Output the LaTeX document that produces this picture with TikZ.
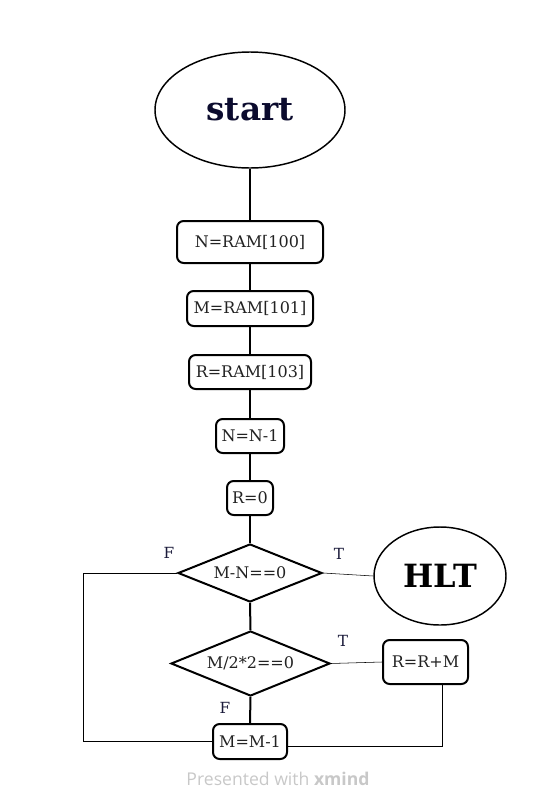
\documentclass[tikz,border=0pt]{standalone}
\usepackage{fontspec}
\setmainfont{DejaVu Serif}
\newfontfamily\xmfont{Open Sans}
\usetikzlibrary{shapes.geometric}
\definecolor{navy}{HTML}{0B0B2E}
\definecolor{labc}{HTML}{1A1A3A}
\definecolor{txt}{HTML}{222222}
\definecolor{thin}{HTML}{5A5A5A}
\definecolor{xm}{HTML}{C8C8C8}
\tikzset{
  box/.style={draw=black, line width=1.5pt, rounded corners=5pt, fill=white, inner sep=0pt, font=\fontsize{12}{14}\selectfont, text=txt},
  dia/.style={draw=black, line width=1.5pt, diamond, inner sep=0pt, fill=white, font=\fontsize{12}{14}\selectfont, text=txt},
  ell/.style={draw=black, line width=1.1pt, ellipse, inner sep=0pt, fill=white},
  main/.style={line width=1.5pt, black},
  loop/.style={line width=0.8pt, thin},
  lab/.style={font=\fontsize{11.5}{13}\selectfont, text=labc, inner sep=0pt}
}
\begin{document}
\begin{tikzpicture}[x=0.75pt, y=-0.75pt]
\useasboundingbox (0,0) rectangle (558,811);
\node[ell, minimum width=142.5pt, minimum height=87pt, font=\bfseries\fontsize{24.5}{28}\selectfont, text=navy] (st) at (250,110) {start};
\node[box, minimum width=109.5pt, minimum height=31.5pt] (n1) at (250,242) {N=RAM[100]};
\node[box, minimum width=94.5pt, minimum height=26.25pt] (n2) at (250,308.5) {M=RAM[101]};
\node[box, minimum width=91.5pt, minimum height=25.5pt] (n3) at (250,372) {R=RAM[103]};
\node[box, minimum width=51pt, minimum height=25.5pt] (n4) at (250,436) {N=N-1};
\node[box, minimum width=34.5pt, minimum height=25.5pt] (n5) at (250,498) {R=0};
\node[dia, aspect=2.48, minimum width=108pt, minimum height=43.5pt] (d1) at (250,573) {M-N==0};
\node[ell, minimum width=99pt, minimum height=73.5pt, font=\bfseries\fontsize{24}{27}\selectfont, text=black] (hlt) at (440,576) {HLT};
\node[dia, aspect=2.45, minimum width=119.25pt, minimum height=48.75pt] (d2) at (250.5,663.5) {M/2*2==0};
\node[box, minimum width=63.75pt, minimum height=33pt] (rr) at (425.5,662) {R=R+M};
\node[box, minimum width=55.5pt, minimum height=26.25pt] (m1) at (250,741.5) {M=M-1};
\coordinate (lc) at (83,573);
\draw[main] (st.south) -- (n1.north);
\draw[main] (n1.south) -- (n2.north);
\draw[main] (n2.south) -- (n3.north);
\draw[main] (n3.south) -- (n4.north);
\draw[main] (n4.south) -- (n5.north);
\draw[main] (n5.south) -- (d1.north);
\draw[main] (d1.south) -- (d2.north);
\draw[main] (d2.south) -- (m1.north);
\draw[loop] (d1.east) -- (hlt.west);
\draw[loop] (d2.east) -- (rr.west);
\draw[loop] (d1.west) -- (lc) |- (m1.west);
\draw[loop] ([xshift=12.4pt]rr.south) |- ([yshift=-3.5pt]m1.east);
\node[lab] (t1) at (339,554) {T};
\node[lab] (f1) at (169,553) {F};
\node[lab] (t2) at (343,641) {T};
\node[lab] (f2) at (225,708) {F};
\node[text=xm, font=\xmfont\fontsize{13.2}{15}\selectfont, inner sep=0pt] (xmind) at (278,779) {Presented with \textbf{xmind}};
\end{tikzpicture}
\end{document}
